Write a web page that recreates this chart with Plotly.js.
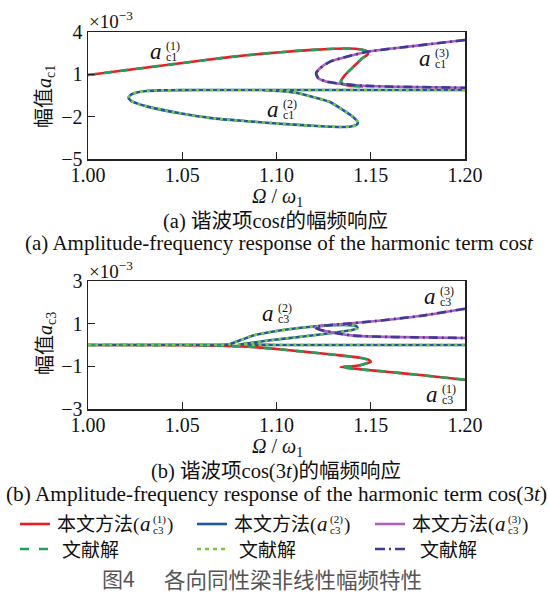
<!DOCTYPE html>
<html><head><meta charset="utf-8">
<script src="https://cdn.plot.ly/plotly-3.0.1.min.js"></script>
<style>html,body{margin:0;padding:0;background:#fff}#c{width:548px;height:594px}</style>
</head><body><div id="c"></div>
<script>
// ---------- data: (a) harmonic cos t, amplitude a_c1 (x1e-3) ----------
const c1_b1_x = [1.000,1.025,1.050,1.075,1.093,1.111,1.128,1.138,1.144,1.148,1.1485,1.1455,1.1408,1.1363,1.1346,1.1341,1.1350,1.139,1.146];
const c1_b1_y = [0.95,1.38,1.80,2.22,2.47,2.66,2.80,2.83,2.78,2.64,2.42,2.14,1.54,0.95,0.62,0.46,0.32,0.20,0.15];
const c1_b2_x = [1.200,1.150,1.100,1.070,1.049,1.038,1.031,1.026,1.023,1.0214,1.0230,1.0275,1.0311,1.0488,1.0665,1.0842,1.1019,1.1215,1.1340,1.1395,1.1425,1.1432,1.1400,1.1353,1.1284,1.1194,1.1109,1.1019,1.0928];
const c1_b2_y = [-0.11,-0.11,-0.11,-0.11,-0.12,-0.14,-0.18,-0.28,-0.42,-0.66,-0.90,-1.13,-1.27,-1.76,-2.12,-2.32,-2.50,-2.66,-2.73,-2.70,-2.58,-2.40,-1.95,-1.53,-0.96,-0.61,-0.32,-0.18,-0.12];
const c1_b3_x = [1.200,1.183,1.166,1.149,1.1372,1.1284,1.1231,1.1210,1.1222,1.1266,1.1355,1.146,1.1637,1.200];
const c1_b3_y = [3.43,3.17,2.90,2.62,2.25,1.90,1.43,1.07,0.72,0.48,0.31,0.19,0.12,0.05];

// ---------- data: (b) harmonic cos 3t, amplitude a_c3 (x1e-3) ----------
const c3_b1_x = [1.000,1.050,1.070,1.085,1.0966,1.1142,1.1319,1.1443,1.1490,1.1500,1.1470,1.1443,1.1400,1.1340,1.1584,1.1761,1.200];
const c3_b1_y = [0.00,-0.01,-0.03,-0.08,-0.16,-0.31,-0.47,-0.60,-0.70,-0.79,-0.88,-0.95,-1.00,-1.04,-1.25,-1.41,-1.63];
const c3_b2_x = [1.000,1.050,1.075,1.0789,1.0877,1.0960,1.1054,1.1213,1.1300,1.1390,1.1425,1.1430,1.1400,1.1319,1.1142,1.0966,1.0850,1.0800,1.0900,1.1000,1.1500,1.200];
const c3_b2_y = [0.00,0.01,0.03,0.16,0.45,0.60,0.73,0.88,0.93,0.93,0.88,0.80,0.70,0.59,0.40,0.22,0.08,0.03,0.01,0.00,0.00,0.00];
const c3_b3_x = [1.200,1.176,1.150,1.135,1.1240,1.1205,1.1231,1.1319,1.1408,1.1584,1.200];
const c3_b3_y = [1.70,1.36,1.10,0.98,0.90,0.82,0.72,0.55,0.44,0.38,0.33];

const xTicks = [1.00,1.05,1.10,1.15,1.20];
const yTicksA = [4,1,-2,-5];
const yTicksB = [3,1,-1,-3];
const legendMain = ['本文方法','本文方法','本文方法'];
const legendRef = ['文献解','文献解','文献解'];
const branchSup = ['(1)','(2)','(3)'];

// ---------- styling ----------
const W = 548, H = 594;
const px = x => x / W, py = y => 1 - y / H;
const RED = '#ec1c24', BLUE = '#1d58a8', PURP = '#b05ec0';
const GRN = '#1fa35c', LGRN = '#7cc63f', DBLU = '#3d3b98';
const SERIF = 'Liberation Serif, Times New Roman, serif';
const CJK = 'Liberation Serif, Noto Sans CJK SC, serif';
const LW = 2.6;

function tr(x, y, color, dash, xa, ya) {
  return {x: x, y: y, mode: 'lines', type: 'scatter', xaxis: xa, yaxis: ya,
    line: {color: color, width: LW, dash: dash, shape: 'spline', smoothing: 0.5},
    hoverinfo: 'skip', showlegend: false};
}
const data = [
  tr(c1_b1_x, c1_b1_y, RED, 'solid', 'x', 'y'),
  tr(c1_b2_x, c1_b2_y, BLUE, 'solid', 'x', 'y'),
  tr(c1_b3_x, c1_b3_y, PURP, 'solid', 'x', 'y'),
  tr(c1_b1_x, c1_b1_y, GRN, '8px,8px', 'x', 'y'),
  tr(c1_b2_x, c1_b2_y, LGRN, '3px,4px', 'x', 'y'),
  tr(c1_b3_x, c1_b3_y, DBLU, '9px,4px,2px,4px', 'x', 'y'),
  tr(c3_b1_x, c3_b1_y, RED, 'solid', 'x2', 'y2'),
  tr(c3_b2_x, c3_b2_y, BLUE, 'solid', 'x2', 'y2'),
  tr(c3_b3_x, c3_b3_y, PURP, 'solid', 'x2', 'y2'),
  tr(c3_b1_x, c3_b1_y, GRN, '8px,8px', 'x2', 'y2'),
  tr(c3_b2_x, c3_b2_y, LGRN, '3px,4px', 'x2', 'y2'),
  tr(c3_b3_x, c3_b3_y, DBLU, '9px,4px,2px,4px', 'x2', 'y2')
];

function xax(anchor) {
  return {domain: [px(88), px(465)], range: [1.0, 1.2], anchor: anchor,
    tickvals: xTicks, tickformat: '.2f', ticks: 'inside', ticklen: 7, tickwidth: 1.3, tickcolor: '#222',
    ticklabelstandoff: -3,
    showline: true, linecolor: '#222', linewidth: 1.5, mirror: true, showgrid: false, zeroline: false,
    tickfont: {family: SERIF, size: 20, color: '#111'}, fixedrange: true};
}
function yax(anchor, dom, rng, tv) {
  return {domain: dom, range: rng, anchor: anchor, tickvals: tv,
    ticks: 'inside', ticklen: 7, tickwidth: 1.3, tickcolor: '#222',
    showline: true, linecolor: '#222', linewidth: 1.5, mirror: true, showgrid: false, zeroline: false,
    tickfont: {family: SERIF, size: 20, color: '#111'}, fixedrange: true};
}

const ann = [];
function A(text, x, y, size, opts) {
  ann.push(Object.assign({text: text, x: px(x), y: py(y), xref: 'paper', yref: 'paper', showarrow: false,
    xanchor: 'center', yanchor: 'middle', font: {family: CJK, size: size, color: '#111'}}, opts || {}));
}
function label(x, y, sup, sub) {
  A('<i>a</i>', x, y, 23, {font: {family: SERIF, size: 23, color: '#111'}});
  A(sup, x + 8, y - 5, 12, {xanchor: 'left', font: {family: SERIF, size: 12, color: '#111'}});
  A(sub, x + 8, y + 6, 12, {xanchor: 'left', font: {family: SERIF, size: 12, color: '#111'}});
}
// exponent labels
A('×10<sup>−3</sup>', 87, 20, 19, {xanchor: 'left', font: {family: SERIF, size: 19, color: '#111'}});
A('×10<sup>−3</sup>', 87, 270, 19, {xanchor: 'left', font: {family: SERIF, size: 19, color: '#111'}});
// y titles
A('幅值<i>a</i><sub>c1</sub>', 46, 97, 20, {textangle: -90});
A('幅值<i>a</i><sub>c3</sub>', 46, 344, 20, {textangle: -90});
// x titles
A('<i>Ω</i> / <i>ω</i><sub>1</sub>', 277, 197, 20, {font: {family: SERIF, size: 20, color: '#111'}});
A('<i>Ω</i> / <i>ω</i><sub>1</sub>', 277, 447, 20, {font: {family: SERIF, size: 20, color: '#111'}});
// captions
A('(a) 谐波项cos<i>t</i>的幅频响应', 275, 221, 20.5);
A('(a) Amplitude-frequency response of the harmonic term cos<i>t</i>', 279, 243, 21, {font: {family: SERIF, size: 21, color: '#111'}});
A('(b) 谐波项cos(3<i>t</i>)的幅频响应', 276, 471, 20.5);
A('(b) Amplitude-frequency response of the harmonic term cos(3<i>t</i>)', 276, 494, 21.3, {font: {family: SERIF, size: 21.3, color: '#111'}});
// curve labels
label(156, 51, '(1)', 'c1');
label(425, 58, '(3)', 'c1');
label(273, 109, '(2)', 'c1');
label(430, 296, '(3)', 'c3');
label(268, 313, '(2)', 'c3');
label(432, 394, '(1)', 'c3');

// legend
const shapes = [];
const cols = [0, 177, 355];
const mainCols = [RED, BLUE, PURP];
const refCols = [GRN, LGRN, DBLU];
const refDash = ['9px,10px', '4px,4px', '10px,4px,2px,4px'];
for (let i = 0; i < 3; i++) {
  const o = cols[i];
  shapes.push({type: 'line', xref: 'paper', yref: 'paper', x0: px(20 + o), x1: px(50 + o), y0: py(524), y1: py(524),
    line: {color: mainCols[i], width: 2.6}});
  shapes.push({type: 'line', xref: 'paper', yref: 'paper', x0: px(20 + o), x1: px(50 + o), y0: py(549), y1: py(549),
    line: {color: refCols[i], width: 2.6, dash: refDash[i]}});
  A(legendMain[i] + '(', 55 + o, 525, 19, {xanchor: 'left', font: {family: CJK, size: 19, color: '#111'}});
  A('<i>a</i>', 145 + o, 524, 21, {font: {family: SERIF, size: 21, color: '#111'}});
  A(branchSup[i], 151 + o, 519, 11, {xanchor: 'left', font: {family: SERIF, size: 11, color: '#111'}});
  A('c3', 151 + o, 530, 11, {xanchor: 'left', font: {family: SERIF, size: 11, color: '#111'}});
  A(')', 165 + o, 525, 19, {xanchor: 'left', font: {family: SERIF, size: 19, color: '#111'}});
  A(legendRef[i], 60 + o + (i === 2 ? 3 : 0), 550, 19, {xanchor: 'left', font: {family: CJK, size: 19, color: '#111'}});
}
// figure caption
A('图4', 100, 578, 21, {xanchor: 'left', font: {family: 'Noto Sans CJK SC, serif', size: 21, color: '#555'}});
A('各向同性梁非线性幅频特性', 162, 578, 21.5, {xanchor: 'left', font: {family: 'Noto Sans CJK SC, serif', size: 21.5, color: '#555'}});

const layout = {
  width: W, height: H, margin: {l: 0, r: 0, t: 0, b: 0},
  paper_bgcolor: '#fff', plot_bgcolor: '#fff', showlegend: false,
  xaxis: xax('y'), yaxis: yax('x', [py(159), py(32)], [-5, 4], yTicksA),
  xaxis2: xax('y2'), yaxis2: yax('x2', [py(409), py(281)], [-3, 3], yTicksB),
  annotations: ann, shapes: shapes
};
Plotly.newPlot('c', data, layout, {displayModeBar: false, staticPlot: true});
</script></body></html>
